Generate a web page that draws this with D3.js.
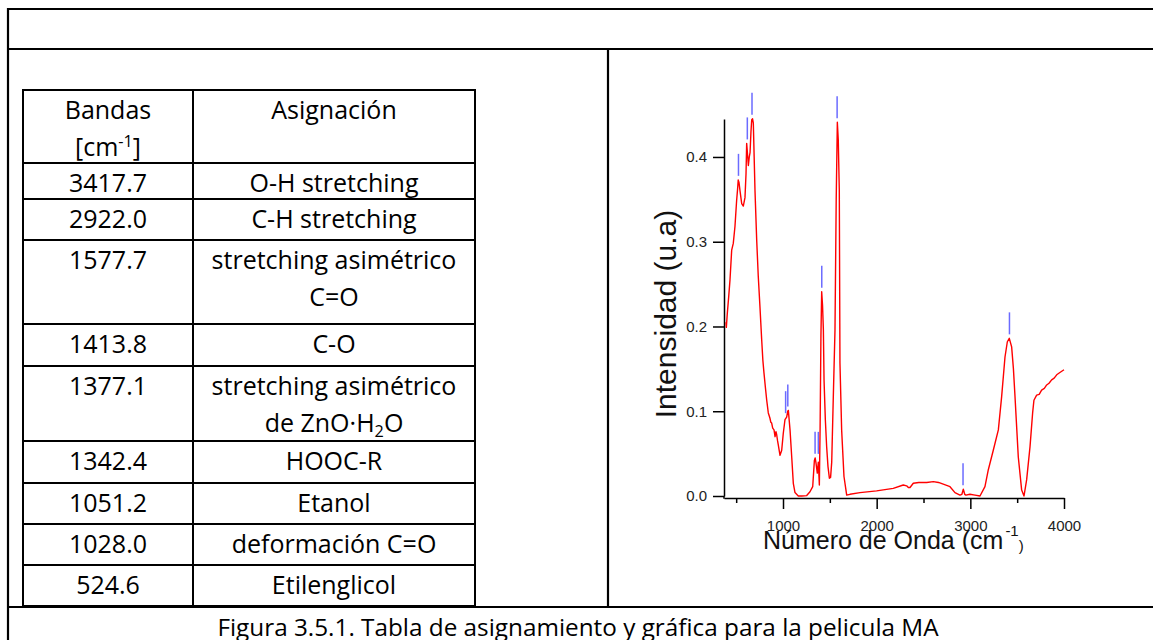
<!DOCTYPE html>
<html>
<head>
<meta charset="utf-8">
<script src="https://cdn.jsdelivr.net/npm/d3@7"></script>
<style>
  body { margin: 0; background: #fff; }
  svg { display: block; }
  .cell { font-family: "Open Sans", sans-serif; font-size: 25px; fill: #000; }
  .caption { font-family: "Open Sans", sans-serif; font-size: 24.3px; fill: #000; }
  .axis text { font-family: "Liberation Sans", Arial, sans-serif; font-size: 15px; fill: #222; }
  .axis path, .axis line { stroke: #000; stroke-width: 1.5px; }
</style>
</head>
<body>
<svg id="fig" width="1153" height="640"></svg>
<script>
// table contents
const headers = [["Bandas", "[cm^{-1}]"], ["Asignación"]];
const bands = ["3417.7", "2922.0", "1577.7", "1413.8", "1377.1", "1342.4", "1051.2", "1028.0", "524.6"];
const assignments = [
    ["O-H stretching"],
    ["C-H stretching"],
    ["stretching asimétrico", "C=O"],
    ["C-O"],
    ["stretching asimétrico", "de ZnO·H_{2}O"],
    ["HOOC-R"],
    ["Etanol"],
    ["deformación C=O"],
    ["Etilenglicol"]
];
const caption = "Figura 3.5.1. Tabla de asignamiento y gráfica para la pelicula MA";

// spectrum
const waveNumber = [391, 395, 405, 420, 434, 452, 469, 487, 505, 515, 522, 530, 541, 559, 576, 594, 605, 612, 620, 630,
    640, 648, 658, 666, 675, 683, 692, 701, 719, 736, 754, 772, 785, 797, 812, 826, 843, 860, 870, 879,
    890, 904, 915, 925, 933, 942, 950, 968, 986, 1003, 1021, 1039, 1051, 1057, 1075, 1093, 1110, 1128, 1163, 1200,
    1253, 1288, 1317, 1335, 1343, 1352, 1366, 1377, 1388, 1396, 1405, 1413, 1422, 1431, 1438, 1452, 1466, 1480, 1495, 1508,
    1520, 1537, 1555, 1568, 1580, 1590, 1601, 1608, 1626, 1651, 1680, 1715, 1822, 1999, 2177, 2284, 2320, 2338, 2356, 2391,
    2450, 2534, 2605, 2660, 2711, 2783, 2836, 2889, 2910, 2925, 2940, 2953, 2996, 3050, 3103, 3156, 3192, 3245, 3299, 3334,
    3370, 3395, 3416, 3441, 3460, 3477, 3512, 3548, 3573, 3601, 3637, 3665, 3679, 3708, 3735, 3761, 3790, 3815, 3840, 3868,
    3895, 3922, 3960, 4000];
const intensity = [0.205, 0.199, 0.215, 0.235, 0.255, 0.29, 0.298, 0.318, 0.349, 0.362, 0.373, 0.37, 0.36, 0.345, 0.342, 0.352, 0.38, 0.416, 0.405, 0.39,
    0.4, 0.405, 0.43, 0.444, 0.445, 0.44, 0.4, 0.36, 0.302, 0.259, 0.223, 0.185, 0.16, 0.145, 0.128, 0.113, 0.098, 0.092, 0.087, 0.086,
    0.08, 0.078, 0.07, 0.076, 0.072, 0.065, 0.06, 0.048, 0.054, 0.074, 0.09, 0.093, 0.1, 0.101, 0.078, 0.046, 0.015, 0.004, 0.0, 0.0,
    0.0005, 0.005, 0.011, 0.042, 0.045, 0.039, 0.027, 0.04, 0.013, 0.08, 0.19, 0.241, 0.225, 0.196, 0.137, 0.09, 0.058, 0.035, 0.021, 0.022,
    0.04, 0.117, 0.196, 0.35, 0.441, 0.42, 0.361, 0.157, 0.078, 0.023, 0.001, 0.002, 0.004, 0.006, 0.009, 0.013, 0.012, 0.01, 0.01, 0.015,
    0.016, 0.016, 0.017, 0.016, 0.014, 0.011, 0.004, 0.001, 0.002, 0.008, 0.002, 0.001, 0.002, 0.001, 0.0, 0.011, 0.031, 0.054, 0.078, 0.117,
    0.164, 0.182, 0.186, 0.176, 0.15, 0.117, 0.046, 0.007, 0.0, 0.019, 0.058, 0.098, 0.113, 0.119, 0.12, 0.125, 0.127, 0.131, 0.133, 0.137,
    0.139, 0.143, 0.146, 0.149];

// peak tags (blue marks)
const markerBands = [524.6, 619, 669, 1028.0, 1051.2, 1342.4, 1377.1, 1413.8, 1577.7, 2922.0, 3417.7];
const markerPeaks = [0.373, 0.416, 0.445, 0.093, 0.101, 0.045, 0.045, 0.241, 0.441, 0.008, 0.186];

const xTicks = [1000, 2000, 3000, 4000];
const xMinorTicks = [500, 1500, 2500, 3500];
const yTicks = [0.0, 0.1, 0.2, 0.3, 0.4];

const svg = d3.select("#fig");

// ---- outer frame
const frame = svg.append("g").attr("stroke", "#000").attr("stroke-width", 2.2);
frame.append("line").attr("x1", 8).attr("x2", 1153).attr("y1", 9).attr("y2", 9);
frame.append("line").attr("x1", 8).attr("x2", 1153).attr("y1", 49).attr("y2", 49);
frame.append("line").attr("x1", 8).attr("x2", 1153).attr("y1", 607).attr("y2", 607);
frame.append("line").attr("x1", 8).attr("x2", 8).attr("y1", 8).attr("y2", 640);
frame.append("line").attr("x1", 608).attr("x2", 608).attr("y1", 49).attr("y2", 607);

// write text with ^{sup} and _{sub} parts
function richText(sel, str, size) {
    const parts = str.split(/(\^\{[^}]*\}|_\{[^}]*\})/).filter(p => p.length);
    let shift = 0;
    parts.forEach(p => {
        let dy = 0, fs = size, txt = p;
        if (p[0] === "^") { txt = p.slice(2, -1); fs = size * 0.65; dy = -size * 0.38; }
        else if (p[0] === "_") { txt = p.slice(2, -1); fs = size * 0.65; dy = size * 0.2; }
        const t = sel.append("tspan").attr("font-size", fs).text(txt);
        const d = dy - shift;
        if (d) t.attr("dy", d);
        shift = dy;
    });
}

// ---- table
const tableLeft = 23, colSplit = 193, tableRight = 475;
const rowEdges = [90, 163, 199, 240, 324, 366, 441, 483, 524, 565, 606];
const rows = [headers].concat(bands.map((b, i) => [[b], assignments[i]]));
const lineGap = 37;

const tbl = svg.append("g");
tbl.selectAll("line.h").data(rowEdges).enter().append("line")
    .attr("x1", tableLeft).attr("x2", tableRight)
    .attr("y1", d => d).attr("y2", d => d)
    .attr("stroke", "#000").attr("stroke-width", 2);
[tableLeft, colSplit, tableRight].forEach(x => {
    tbl.append("line").attr("x1", x).attr("x2", x)
        .attr("y1", rowEdges[0] - 1).attr("y2", rowEdges[rowEdges.length - 1] + 1)
        .attr("stroke", "#000").attr("stroke-width", 2);
});

const colCenters = [(tableLeft + colSplit) / 2, (colSplit + tableRight) / 2];
rows.forEach((row, r) => {
    row.forEach((lines, c) => {
        lines.forEach((ln, k) => {
            const t = tbl.append("text").attr("class", "cell")
                .attr("x", colCenters[c])
                .attr("y", rowEdges[r] + 29 + k * lineGap)
                .attr("text-anchor", "middle");
            richText(t, ln, 25);
        });
    });
});

// caption
svg.append("text").attr("class", "caption")
    .attr("x", 578).attr("y", 636)
    .attr("text-anchor", "middle")
    .text(caption);

// ---- spectrum chart
const x = d3.scaleLinear().domain([370, 4000]).range([724, 1064]);
const y = d3.scaleLinear().domain([0, 0.4448]).range([496, 119]);
const xAxisY = 498;

svg.append("g").attr("class", "axis")
    .attr("transform", "translate(0," + xAxisY + ")")
    .call(d3.axisBottom(x).tickValues(xTicks).tickSize(11).tickSizeOuter(0).tickPadding(11).tickFormat(d3.format("d")));
svg.append("g").attr("class", "axis")
    .attr("transform", "translate(0," + xAxisY + ")")
    .call(d3.axisBottom(x).tickValues(xMinorTicks).tickSize(5).tickSizeOuter(0).tickFormat(""))
    .select(".domain").remove();

svg.append("g").attr("class", "axis")
    .attr("transform", "translate(724,0)")
    .call(d3.axisLeft(y).tickValues(yTicks).tickSize(11).tickSizeOuter(0).tickPadding(6).tickFormat(d3.format(".1f")));
svg.append("line").attr("x1", 724).attr("x2", 724).attr("y1", y(0)).attr("y2", xAxisY + 0.75)
    .attr("stroke", "#000").attr("stroke-width", 1.5);

const spectrum = waveNumber.map((w, i) => [w, intensity[i]]);
svg.append("path")
    .datum(spectrum)
    .attr("fill", "none")
    .attr("stroke", "#ff0000")
    .attr("stroke-width", 1.4)
    .attr("stroke-linejoin", "round")
    .attr("d", d3.line().x(d => x(d[0])).y(d => y(d[1])));

svg.append("g").selectAll("line")
    .data(markerBands.map((b, i) => [b, markerPeaks[i]]))
    .enter().append("line")
    .attr("x1", d => x(d[0])).attr("x2", d => x(d[0]))
    .attr("y1", d => y(d[1]) - 4).attr("y2", d => y(d[1]) - 26)
    .attr("stroke", "#6b6bff").attr("stroke-width", 1.5);

// axis titles
const xt = svg.append("text")
    .attr("x", 763).attr("y", 549)
    .attr("font-family", "Liberation Sans, Arial, sans-serif")
    .attr("font-size", 25).attr("fill", "#111");
xt.append("tspan").text("Número de Onda (cm");
xt.append("tspan").attr("font-size", 15).attr("dx", 2).attr("dy", -13).text("-1");
xt.append("tspan").attr("font-size", 15).attr("dy", 15).text(")");

svg.append("text")
    .attr("transform", "translate(676,314) rotate(-90)")
    .attr("text-anchor", "middle")
    .attr("font-family", "Liberation Sans, Arial, sans-serif")
    .attr("font-size", 30).attr("fill", "#111")
    .text("Intensidad (u.a)");
</script>
</body>
</html>
